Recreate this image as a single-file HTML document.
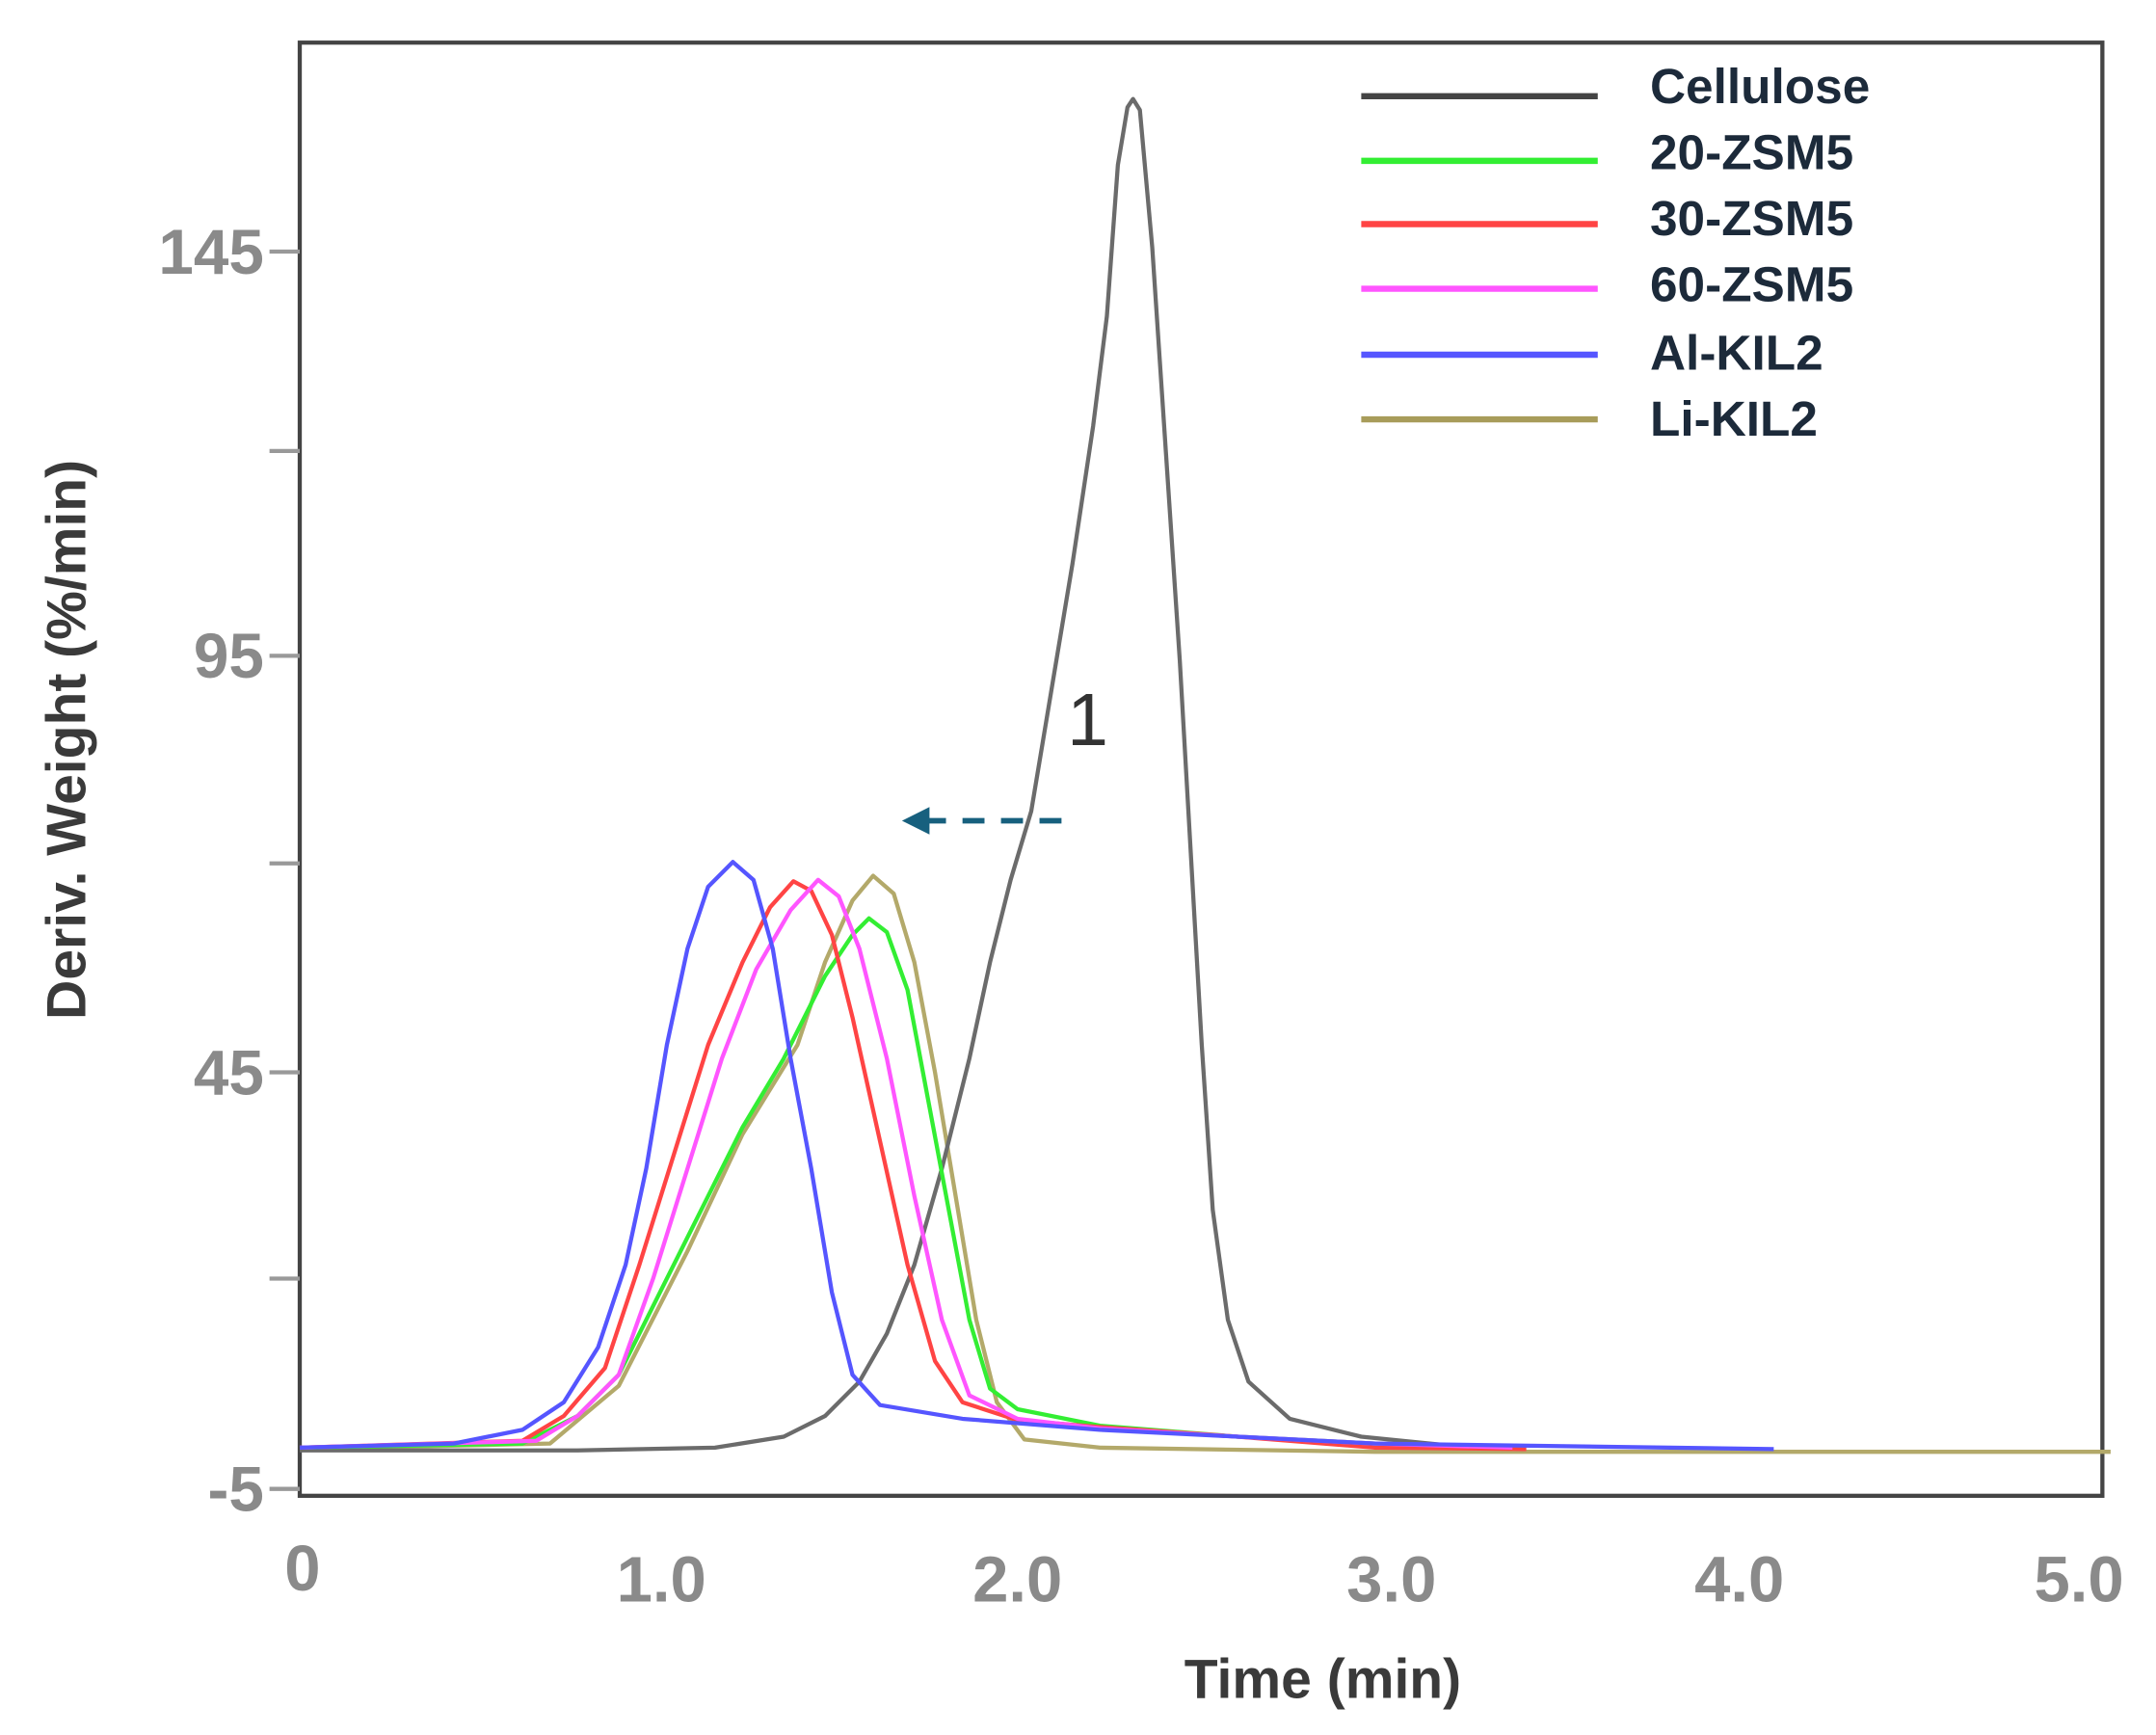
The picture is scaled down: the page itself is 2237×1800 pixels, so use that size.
<!DOCTYPE html>
<html><head><meta charset="utf-8"><style>
html,body{margin:0;padding:0;background:#fff;}
svg{display:block;}
</style></head><body>
<svg width="2237" height="1800" viewBox="0 0 1568 1262" preserveAspectRatio="none" xmlns="http://www.w3.org/2000/svg">
<rect width="1568" height="1262" fill="#fff"/>
<rect x="218" y="31" width="1311" height="1057" fill="none" stroke="#444" stroke-width="3"/>
<g stroke="#999" stroke-width="3">
<line x1="196" y1="183" x2="218" y2="183"/>
<line x1="196" y1="328" x2="218" y2="328"/>
<line x1="196" y1="477" x2="218" y2="477"/>
<line x1="196" y1="628" x2="218" y2="628"/>
<line x1="196" y1="780" x2="218" y2="780"/>
<line x1="196" y1="930" x2="218" y2="930"/>
<line x1="196" y1="1083" x2="218" y2="1083"/>
</g>
<g font-family="Liberation Sans, sans-serif" font-weight="bold" fill="#8a8a8a" font-size="46" text-anchor="end">
<text x="192" y="199">145</text>
<text x="192" y="493">95</text>
<text x="192" y="796">45</text>
<text x="192" y="1099">-5</text>
</g>
<g font-family="Liberation Sans, sans-serif" font-weight="bold" fill="#8a8a8a" font-size="47" text-anchor="middle">
<text x="220" y="1157">0</text>
<text x="481" y="1165">1.0</text>
<text x="740" y="1165">2.0</text>
<text x="1012" y="1165">3.0</text>
<text x="1265" y="1165">4.0</text>
<text x="1512" y="1165">5.0</text>
</g>
<text x="962" y="1235" font-family="Liberation Sans, sans-serif" font-weight="bold" font-size="40" fill="#3a3a3a" text-anchor="middle">Time (min)</text>
<text transform="translate(62,538) rotate(-90)" font-family="Liberation Sans, sans-serif" font-weight="bold" font-size="40" fill="#3a3a3a" text-anchor="middle">Deriv. Weight (%/min)</text>
<g fill="none" stroke-width="3" stroke-linejoin="round">
<polyline stroke="#b3a96a" points="218,1054 400,1050 450,1008 500,910 540,825 580,760 600,700 620,655 635,637 650,650 665,700 680,780 695,870 710,960 725,1020 745,1047 800,1053 1000,1056 1535,1056"/>
<polyline stroke="#6b6b6b" points="218,1055 420,1055 520,1053 570,1045 600,1030 625,1005 645,970 665,920 685,850 705,770 720,700 735,640 750,590 765,500 780,410 795,310 805,230 813,120 820,78 824,72 829,80 838,180 848,330 858,480 866,620 874,760 882,880 893,960 908,1005 938,1032 990,1045 1060,1052 1110,1054"/>
<polyline stroke="#33ee33" points="218,1053 380,1050 420,1030 450,1000 480,940 510,880 540,820 570,770 600,710 620,680 632,668 645,678 660,720 675,800 690,880 705,960 720,1010 740,1025 800,1037 900,1045 1000,1050 1100,1053"/>
<polyline stroke="#ff4444" points="218,1053 380,1048 410,1030 440,995 465,920 490,840 515,760 540,700 560,660 577,641 590,648 605,680 620,740 640,830 660,920 680,990 700,1020 740,1033 800,1038 900,1045 1000,1053 1110,1054"/>
<polyline stroke="#ff55ff" points="218,1053 390,1048 420,1030 450,1000 475,930 500,850 525,770 550,705 575,662 595,640 610,652 625,690 645,770 665,870 685,960 705,1015 740,1032 800,1039 900,1045 1000,1050 1100,1053"/>
<polyline stroke="#5555ff" points="218,1053 330,1050 380,1040 410,1020 435,980 455,920 470,850 485,760 500,690 515,645 533,627 548,640 562,690 575,770 590,850 605,940 620,1000 640,1022 700,1032 800,1040 900,1045 1000,1050 1290,1054"/>
</g>
<g stroke-width="4.5">
<line x1="990" y1="70" x2="1162" y2="70" stroke="#444"/>
<line x1="990" y1="117" x2="1162" y2="117" stroke="#33ee33"/>
<line x1="990" y1="163" x2="1162" y2="163" stroke="#ff4444"/>
<line x1="990" y1="210" x2="1162" y2="210" stroke="#ff55ff"/>
<line x1="990" y1="258" x2="1162" y2="258" stroke="#5555ff"/>
<line x1="990" y1="305" x2="1162" y2="305" stroke="#a89c5a"/>
</g>
<g font-family="Liberation Sans, sans-serif" font-weight="bold" font-size="36" fill="#1c2a3a">
<text x="1200" y="75">Cellulose</text>
<text x="1200" y="123">20-ZSM5</text>
<text x="1200" y="171">30-ZSM5</text>
<text x="1200" y="219">60-ZSM5</text>
<text x="1200" y="269">Al-KIL2</text>
<text x="1200" y="317">Li-KIL2</text>
</g>
<text x="776" y="542" font-family="Liberation Sans, sans-serif" font-size="54" fill="#333">1</text>
<line x1="672" y1="597" x2="778" y2="597" stroke="#17607e" stroke-width="4" stroke-dasharray="16,12"/>
<polygon points="656,597 676,587 676,607" fill="#17607e"/>
</svg>
</body></html>
